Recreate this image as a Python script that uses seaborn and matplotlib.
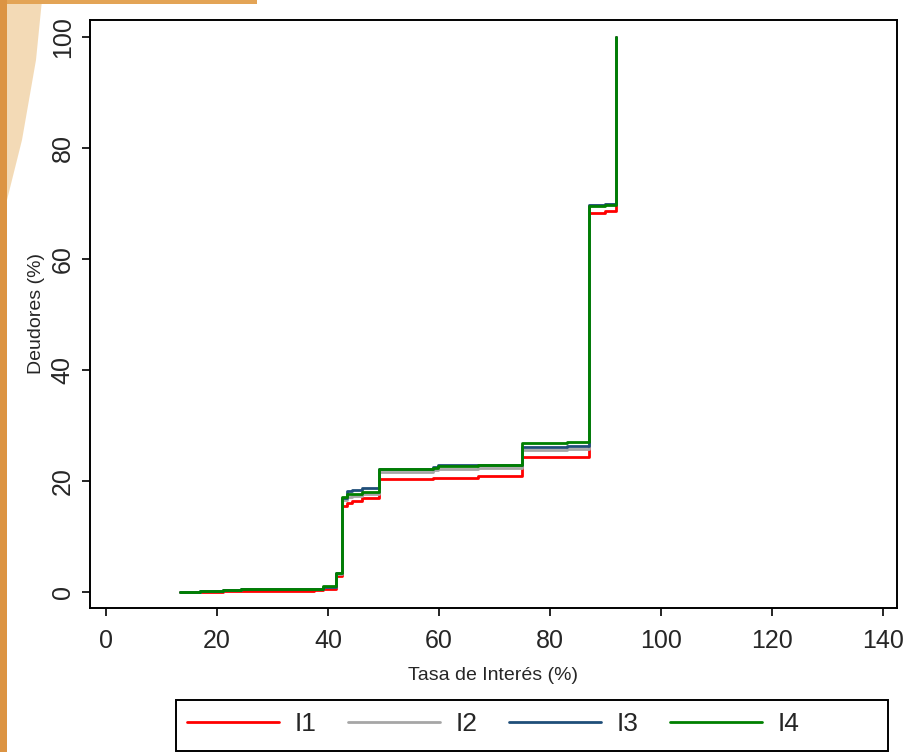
import numpy as np
import pandas as pd
import matplotlib
matplotlib.use("Agg")
import matplotlib.pyplot as plt
import seaborn as sns
from matplotlib.patches import Rectangle, Polygon
from matplotlib.lines import Line2D

# ---- data ----
tasa = [13.3, 16.9, 21.1, 24.4, 37.5, 39.1, 41.4, 42.5, 43.5, 44.3,
        46.1, 49.1, 59.0, 59.9, 67.1, 75.0, 83.0, 87.0, 89.9, 91.9]
i1 = [0, 0.05, 0.15, 0.2, 0.3, 0.6, 2.9, 15.5, 16.1, 16.4,
      16.9, 20.3, 20.6, 20.6, 20.9, 24.3, 24.4, 68.3, 68.6, 100]
i2 = [0, 0.1, 0.3, 0.6, 0.6, 0.9, 3.2, 16.6, 17.2, 17.3,
      17.7, 21.7, 22.0, 22.2, 22.3, 25.6, 25.7, 69.8, 69.9, 100]
i3 = [0, 0.1, 0.4, 0.5, 0.5, 0.9, 3.4, 17.0, 18.2, 18.3,
      18.7, 22.1, 22.5, 22.8, 22.8, 26.2, 26.3, 69.8, 69.9, 100]
i4 = [0, 0.1, 0.3, 0.5, 0.6, 1.0, 3.5, 17.2, 17.6, 17.6,
      18.0, 22.1, 22.4, 22.7, 22.8, 26.9, 27.1, 69.5, 69.7, 100]
series = ["I1", "I2", "I3", "I4"]
colors = ["#FF0000", "#A6A6A6", "#1F4E79", "#008000"]
xticks = [0, 20, 40, 60, 80, 100, 120, 140]
yticks = [0, 20, 40, 60, 80, 100]

df = pd.concat([
    pd.DataFrame({"Tasa": tasa, "Deudores": v, "serie": s})
    for s, v in zip(series, [i1, i2, i3, i4])
], ignore_index=True)

sns.set_style("white")
plt.rcParams["font.family"] = ["Liberation Sans", "DejaVu Sans"]

W, H = 906, 752
fig = plt.figure(figsize=(W / 100, H / 100), dpi=100)
fig.patch.set_facecolor("white")

# slide decoration on the left / top-left
fig.patches.append(Rectangle((0, 0), 7 / W, 1, transform=fig.transFigure,
                             facecolor="#DC9443", edgecolor="none", zorder=0))
fig.patches.append(Polygon([(7 / W, 1), (42 / W, 1), (36 / W, 1 - 60 / H),
                            (22 / W, 1 - 140 / H), (7 / W, 1 - 200 / H)],
                           closed=True, transform=fig.transFigure,
                           facecolor="#EFCB98", edgecolor="none", alpha=0.7, zorder=0))
fig.patches.append(Rectangle((7 / W, 1 - 4 / H), 250 / W, 4 / H, transform=fig.transFigure,
                             facecolor="#E3A456", edgecolor="none", zorder=0))

ax = fig.add_axes([90 / W, (H - 608) / H, (897 - 90) / W, (608 - 20) / H])

sns.lineplot(data=df, x="Tasa", y="Deudores", hue="serie", hue_order=series,
             palette=colors, estimator=None, sort=False, drawstyle="steps-post",
             linewidth=2.0, legend=False, ax=ax)

ax.set_xlim(-2.88, 142.5)
ax.set_ylim(-2.88, 103.06)
ax.set_xticks(xticks)
ax.set_yticks(yticks)
ax.set_xticklabels([str(t) for t in xticks], fontsize=18)
ax.set_yticklabels([str(t) for t in yticks], fontsize=18, rotation=90, va="center")
ax.tick_params(axis="both", direction="out", length=6, width=1.2, color="black",
               bottom=True, left=True)
ax.tick_params(axis="x", pad=9)
ax.tick_params(axis="y", pad=5)
for sp in ax.spines.values():
    sp.set_visible(True)
    sp.set_color("black")
    sp.set_linewidth(1.4)
ax.set_xlabel("Tasa de Interés (%)", fontsize=14, labelpad=10)
ax.set_ylabel("Deudores (%)", fontsize=14, labelpad=4)
ax.grid(False)

# legend frame (drawn separately to match the wide key box)
fig.patches.append(Rectangle((176 / W, 1 - 751 / H), (888 - 176) / W, 51 / H,
                             transform=fig.transFigure, facecolor="white",
                             edgecolor="black", linewidth=1.4, zorder=1))
handles = [Line2D([0], [0], color=c, lw=2.0) for c in colors]
leg = fig.legend(handles, series, loc="center left",
                 bbox_to_anchor=(187 / W, 1 - 724 / H), ncol=4, fontsize=19,
                 frameon=False, handlelength=3.5, handletextpad=0.57,
                 columnspacing=1.2, borderpad=0, borderaxespad=0)
leg.set_zorder(2)

fig.savefig("out.png", dpi=100, facecolor="white")
